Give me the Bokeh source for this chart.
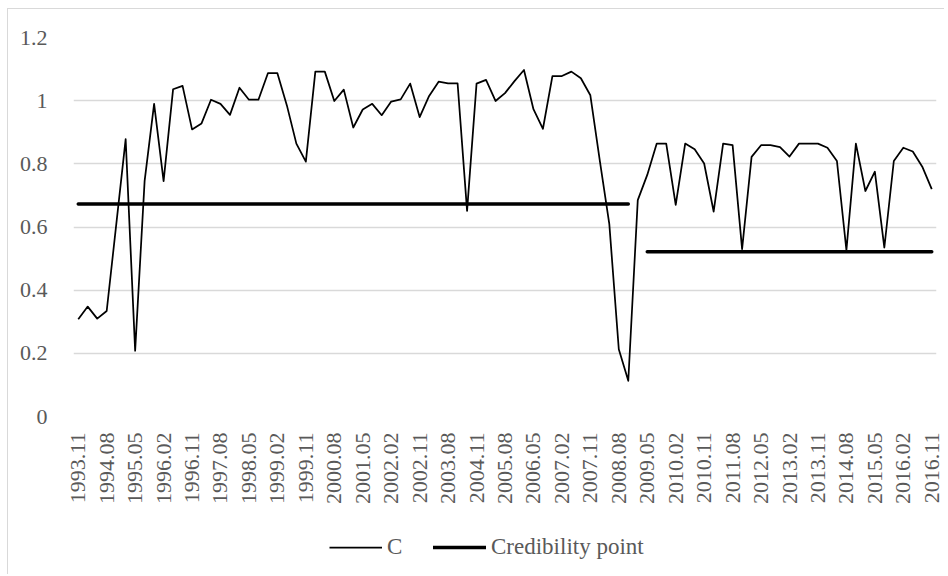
import math
from bokeh.plotting import figure
from bokeh.models import Range1d, FixedTicker, Legend, LegendItem, ColumnDataSource
from bokeh.embed import file_html
from bokeh.resources import INLINE

quarters = [
    "1993.11", "1994.02", "1994.05", "1994.08", "1994.11", "1995.02", "1995.05", "1995.08",
    "1995.11", "1996.02", "1996.05", "1996.08", "1996.11", "1997.02", "1997.05", "1997.08",
    "1997.11", "1998.02", "1998.05", "1998.08", "1998.11", "1999.02", "1999.05", "1999.08",
    "1999.11", "2000.02", "2000.05", "2000.08", "2000.11", "2001.02", "2001.05", "2001.08",
    "2001.11", "2002.02", "2002.05", "2002.08", "2002.11", "2003.02", "2003.05", "2003.08",
    "2003.11", "2004.08", "2004.11", "2005.02", "2005.05", "2005.08", "2005.11", "2006.02",
    "2006.05", "2006.08", "2006.11", "2007.02", "2007.05", "2007.08", "2007.11", "2008.02",
    "2008.05", "2008.08", "2008.11", "2009.02", "2009.05", "2009.08", "2009.11", "2010.02",
    "2010.05", "2010.08", "2010.11", "2011.02", "2011.05", "2011.08", "2011.11", "2012.02",
    "2012.05", "2012.08", "2012.11", "2013.02", "2013.05", "2013.08", "2013.11", "2014.02",
    "2014.05", "2014.08", "2014.11", "2015.02", "2015.05", "2015.08", "2015.11", "2016.02",
    "2016.05", "2016.08", "2016.11",
]

c_values = [
    0.308, 0.348, 0.310, 0.334, 0.606, 0.878, 0.208, 0.746, 0.990, 0.745,
    1.036, 1.047, 0.909, 0.928, 1.003, 0.990, 0.955, 1.041, 1.003, 1.003,
    1.087, 1.087, 0.985, 0.864, 0.807, 1.092, 1.092, 0.999, 1.035, 0.915,
    0.972, 0.990, 0.954, 0.997, 1.004, 1.054, 0.948, 1.015, 1.060, 1.055,
    1.055, 0.651, 1.054, 1.066, 0.999, 1.024, 1.062, 1.097, 0.973, 0.911,
    1.078, 1.078, 1.092, 1.071, 1.017, 0.809, 0.609, 0.213, 0.113, 0.685,
    0.765, 0.864, 0.864, 0.670, 0.864, 0.846, 0.801, 0.649, 0.864, 0.859,
    0.530, 0.822, 0.859, 0.859, 0.853, 0.823, 0.864, 0.864, 0.864, 0.851,
    0.809, 0.527, 0.864, 0.714, 0.775, 0.535, 0.809, 0.851, 0.839, 0.791,
    0.720,
]

# credibility point: (first quarter, last quarter, level)
cred_periods = [("1993.11", "2008.11", 0.673), ("2009.05", "2016.11", 0.522)]

series_names = ["C", "Credibility point"]

y_ticks = [0, 0.2, 0.4, 0.6, 0.8, 1, 1.2]
y_labels = ["0", "0.2", "0.4", "0.6", "0.8", "1", "1.2"]

x_idx = list(range(len(quarters)))
cred = [float("nan")] * len(quarters)
for start, end, level in cred_periods:
    for i in range(quarters.index(start), quarters.index(end) + 1):
        cred[i] = level

src = ColumnDataSource(dict(x=x_idx, c=c_values, cred=cred))

FONT = "Liberation Serif"
GRAY = "#595959"
C_STYLE = dict(line_color="black", line_width=1.75, line_join="round")
CRED_STYLE = dict(line_color="black", line_width=3.5, line_cap="round")

p = figure(frame_width=863, frame_height=379, output_backend="svg", toolbar_location=None,
           x_range=Range1d(-0.5, len(quarters) - 0.5), y_range=Range1d(0, 1.2),
           min_border_left=65, min_border_right=8, min_border_top=28, min_border_bottom=158)
p.styles = {"margin-left": "7px", "margin-top": "8px",
            "border-left": "1px solid #d9d9d9", "border-top": "1px solid #d9d9d9"}
p.outline_line_color = None

p.line("x", "c", source=src, **C_STYLE)
p.line("x", "cred", source=src, **CRED_STYLE)

p.xgrid.grid_line_color = None
p.ygrid.grid_line_color = "#d9d9d9"
p.ygrid.grid_line_width = 1.3
p.ygrid.ticker = FixedTicker(ticks=y_ticks)

p.yaxis.ticker = FixedTicker(ticks=y_ticks)
p.yaxis.major_label_overrides = {t: l for t, l in zip(y_ticks, y_labels)}
p.yaxis.axis_line_color = None
p.yaxis.major_tick_line_color = None
p.yaxis.minor_tick_line_color = None
p.yaxis.major_label_standoff = 20
p.yaxis.major_label_text_font = FONT
p.yaxis.major_label_text_font_size = "22px"
p.yaxis.major_label_text_color = GRAY

x_ticks = x_idx[::3]
p.xaxis.ticker = FixedTicker(ticks=x_ticks)
p.xaxis.major_label_overrides = {i: quarters[i] for i in x_ticks}
p.xaxis.major_label_orientation = math.pi / 2
p.xaxis.axis_line_color = None
p.xaxis.major_tick_line_color = None
p.xaxis.minor_tick_line_color = None
p.xaxis.major_tick_out = 0
p.xaxis.major_tick_in = 0
p.xaxis.major_label_standoff = 16
p.xaxis.major_label_text_font = FONT
p.xaxis.major_label_text_font_size = "22px"
p.xaxis.major_label_text_color = GRAY

# legend strip, placed under the plot at the reference's position.
# Its key renderers reuse the series data, with ranges that keep the data itself out of view.
lg = figure(width=340, height=40, output_backend="svg", toolbar_location=None,
            x_range=Range1d(-20, -10), y_range=Range1d(-20, -10),
            min_border=0, min_border_left=0, min_border_right=0,
            min_border_top=0, min_border_bottom=0)
lg.axis.visible = False
lg.grid.visible = False
lg.outline_line_color = None
lg.background_fill_color = None
lg.border_fill_color = None
lg.styles = {"position": "absolute", "left": "320px", "top": "527px"}
k_c = lg.line("x", "c", source=src, **C_STYLE)
k_cred = lg.line("x", "cred", source=src, **CRED_STYLE)
legend = Legend(items=[LegendItem(label=series_names[0], renderers=[k_c]),
                       LegendItem(label=series_names[1], renderers=[k_cred])],
                orientation="horizontal", location="center_left",
                label_text_font=FONT, label_text_font_size="23px", label_text_color=GRAY,
                glyph_width=53, glyph_height=20, label_standoff=5, spacing=26,
                padding=3, margin=9, border_line_color=None, background_fill_color=None)
lg.add_layout(legend, "center")

open("out.html", "w").write(file_html([p, lg], INLINE))
